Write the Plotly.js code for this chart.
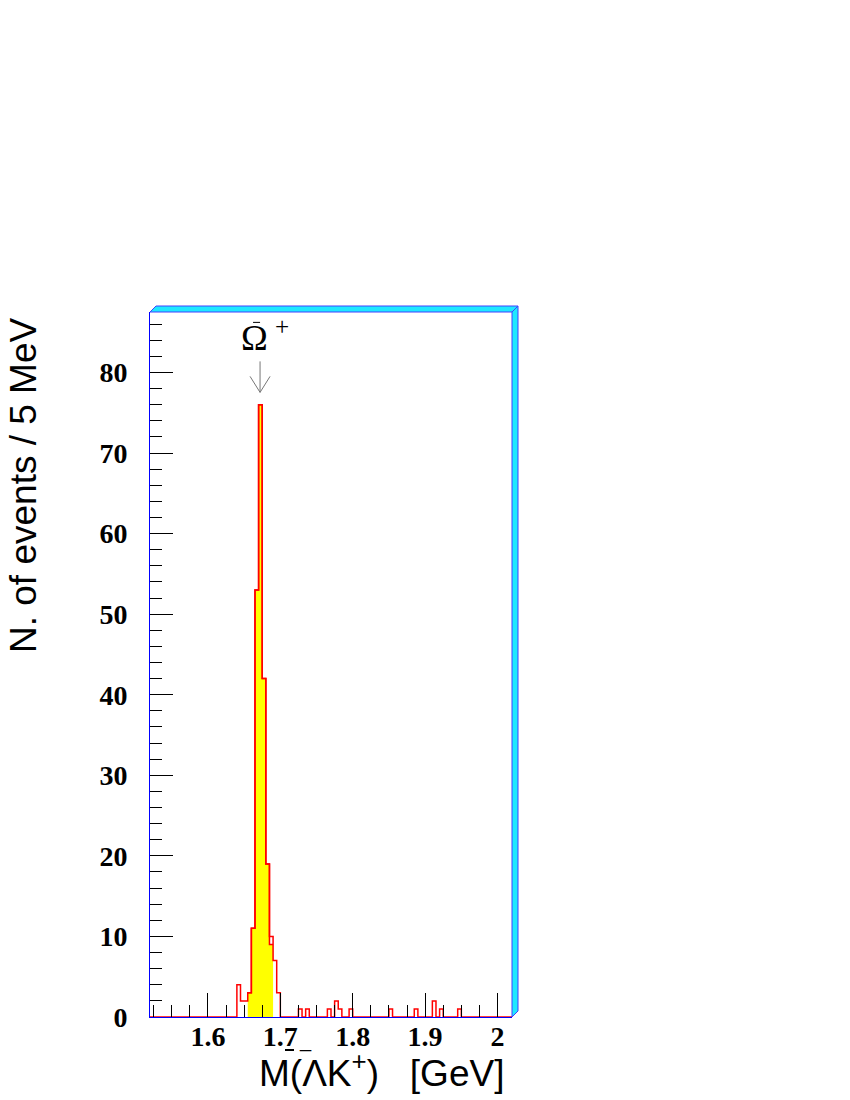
<!DOCTYPE html>
<html>
<head>
<meta charset="utf-8">
<script src="https://cdn.plot.ly/plotly-3.0.1.min.js"></script>
<style>
  body { margin: 0; background: #fff; }
  #chart { width: 850px; height: 1100px; }
</style>
</head>
<body>
<div id="chart"></div>
<script>
// histogram: 5 MeV bins from 1.52 to 2.02 GeV, only non-empty bins listed (lower edges)
const binStart = 1.52;
const binWidth = 0.005;
const nBins = 100;
const bins   = [1.640, 1.645, 1.650, 1.655, 1.660, 1.665, 1.670, 1.675, 1.680, 1.685, 1.690, 1.695,
                1.725, 1.735, 1.765, 1.775, 1.780, 1.795, 1.850, 1.885, 1.910, 1.920, 1.945];
const counts = [4, 2, 2, 3, 11, 53, 76, 42, 19, 10, 7, 3,
                1, 1, 1, 2, 1, 1, 1, 1, 2, 1, 1];

// shaded signal window
const sigBins   = [1.655, 1.660, 1.665, 1.670, 1.675, 1.680, 1.685];
const sigCounts = [3, 11, 53, 76, 42, 19, 9];

const xTicks = [1.6, 1.7, 1.8, 1.9, 2.0];
const xTickText = ['1.6', '1.7', '1.8', '1.9', '2'];

// where the Omega arrow points (peak)
const peakX = 1.672, peakY = 77.4;

// turn a list of (lower edge, count) into step-line points
function stepPoints(lows, vals, width) {
  const xs = [], ys = [];
  for (let i = 0; i < lows.length; i++) { xs.push(lows[i]); ys.push(vals[i]); }
  xs.push(lows[lows.length - 1] + width);
  ys.push(vals[vals.length - 1]);
  return { xs, ys };
}

// full histogram (zeros where no entries)
const allLows = [], allVals = [];
for (let i = 0; i < nBins; i++) {
  const lo = +(binStart + i * binWidth).toFixed(3);
  allLows.push(lo);
  const k = bins.findIndex(b => Math.abs(b - lo) < 1e-6);
  allVals.push(k >= 0 ? counts[k] : 0);
}
const full = stepPoints(allLows, allVals, binWidth);
const sig = stepPoints(sigBins, sigCounts, binWidth);

const sigTrace = {
  x: sig.xs, y: sig.ys,
  type: 'scatter', mode: 'lines',
  line: { shape: 'hv', color: '#ff0000', width: 1.5 },
  fill: 'tozeroy', fillcolor: '#ffff00',
  hoverinfo: 'skip'
};
const histTrace = {
  x: full.xs, y: full.ys,
  type: 'scatter', mode: 'lines',
  line: { shape: 'hv', color: '#ff0000', width: 1.5 },
  hoverinfo: 'skip'
};

const tickFont = { family: 'Liberation Serif', size: 28, weight: 'bold', color: '#000' };
const titleFont = { family: 'Liberation Sans', size: 37, color: '#000' };

// plot is 362 x 705 px, 3D frame depth 6 px
const dx = 6 / 362, dy = 6 / 705;

// small pixel-sized shape anchored at the peak
function pxShape(path, color) {
  return { type: 'path', xref: 'x', yref: 'y', xsizemode: 'pixel', ysizemode: 'pixel',
           xanchor: peakX, yanchor: peakY, path, line: { color, width: 1 } };
}

const layout = {
  width: 850, height: 1100,
  autosize: false,
  margin: { l: 150, r: 338, t: 312, b: 83 },
  paper_bgcolor: '#fff',
  plot_bgcolor: '#fff',
  showlegend: false,
  xaxis: {
    range: [1.52, 2.02],
    tickvals: xTicks, ticktext: xTickText,
    ticks: 'inside', ticklen: 24, tickwidth: 1, tickcolor: '#000',
    minor: { tick0: 1.5, dtick: 0.025, ticks: 'inside', ticklen: 12, tickwidth: 1, tickcolor: '#000' },
    tickfont: tickFont,
    ticklabelstandoff: -6,
    showgrid: false, zeroline: false,
    showline: true, linecolor: '#0000ff', linewidth: 1
  },
  yaxis: {
    range: [0, 87.5],
    dtick: 10, tick0: 0,
    ticks: 'inside', ticklen: 23, tickwidth: 1, tickcolor: '#000',
    minor: { dtick: 2, ticks: 'inside', ticklen: 12, tickwidth: 1, tickcolor: '#000' },
    tickfont: tickFont,
    ticklabelstandoff: 16,
    showgrid: false, zeroline: false,
    showline: true, linecolor: '#0000ff', linewidth: 1
  },
  shapes: [
    { type: 'path', xref: 'paper', yref: 'paper',
      path: `M 0,1 L ${dx},${1 + dy} L ${1 + dx},${1 + dy} L 1,1 Z`,
      fillcolor: '#1ee8ff', line: { color: '#4040ff', width: 1 } },
    { type: 'path', xref: 'paper', yref: 'paper',
      path: `M 1,1 L ${1 + dx},${1 + dy} L ${1 + dx},${dy} L 1,0 Z`,
      fillcolor: '#1ee8ff', line: { color: '#4040ff', width: 1 } },
    // arrow to the peak (open head)
    pxShape('M 0,1 L 0,32 M -10,17 L 0,1 L 10,17', '#777'),
    // bar over Omega
    pxShape('M -7,71 L 0,71', '#000'),
    // bar over Lambda in the x title
    { type: 'line', xref: 'paper', yref: 'paper',
      x0: (285 - 150) / 362, x1: (294 - 150) / 362, y0: -33 / 705, y1: -33 / 705,
      line: { color: '#000', width: 2 } }
  ],
  annotations: [
    { x: peakX, y: 84.6, xref: 'x', yref: 'y', xshift: 5,
      text: 'Ω\u2009<sup>+</sup>', showarrow: false,
      xanchor: 'center', yanchor: 'middle',
      font: { family: 'Liberation Serif', size: 36, color: '#000' } },
    // axis titles
    { x: 0.6395, y: -0.0752, xref: 'paper', yref: 'paper',
      text: 'M(ΛK<sup>+</sup>)\u00a0\u00a0\u00a0[GeV]', showarrow: false,
      xanchor: 'center', yanchor: 'middle', font: titleFont },
    { x: -0.3508, y: 0.7546, xref: 'paper', yref: 'paper',
      text: 'N. of events / 5 MeV', showarrow: false, textangle: -90,
      xanchor: 'center', yanchor: 'middle', font: titleFont },
    { x: (305 - 150) / 362, y: -0.0330, xref: 'paper', yref: 'paper',
      text: '_', showarrow: false, xanchor: 'center', yanchor: 'middle',
      font: { family: 'Liberation Sans', size: 20, color: '#000' } }
  ]
};

Plotly.newPlot('chart', [sigTrace, histTrace], layout, { displayModeBar: false, staticPlot: true });
</script>
</body>
</html>
